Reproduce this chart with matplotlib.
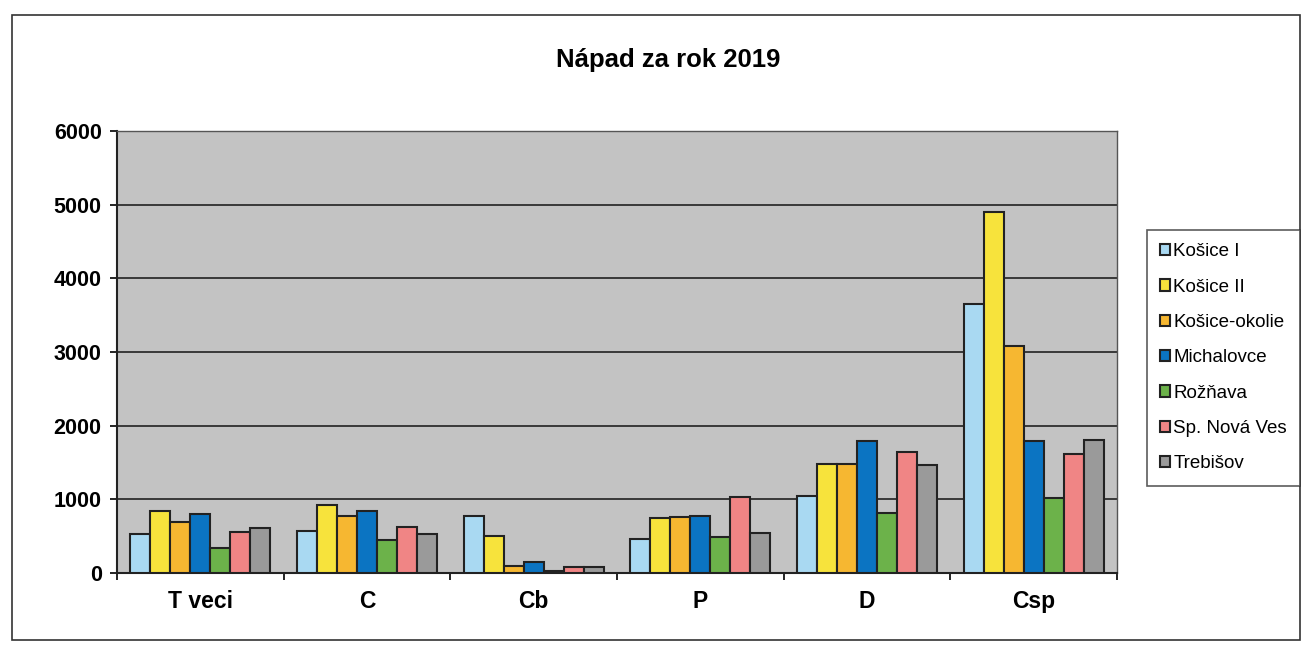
import numpy as np
import matplotlib.pyplot as plt
from matplotlib.patches import Rectangle

plt.rcParams['font.family'] = ['Liberation Sans', 'DejaVu Sans']

categories = ["T veci", "C", "Cb", "P", "D", "Csp"]
courts = ["Košice I", "Košice II", "Košice-okolie", "Michalovce",
          "Rožňava", "Sp. Nová Ves", "Trebišov"]
kosice_1 = [530, 570, 780, 460, 1040, 3650]
kosice_2 = [840, 920, 500, 740, 1480, 4900]
kosice_okolie = [690, 770, 100, 760, 1480, 3080]
michalovce = [800, 840, 150, 770, 1790, 1790]
roznava = [340, 450, 30, 490, 820, 1020]
sp_nova_ves = [550, 630, 80, 1030, 1640, 1610]
trebisov = [610, 530, 80, 540, 1460, 1800]
series = [kosice_1, kosice_2, kosice_okolie, michalovce, roznava, sp_nova_ves, trebisov]
colors = ["#a9d9f2", "#f7e33c", "#f6b731", "#0b74c2", "#6cb24a", "#f08585", "#9a9a9a"]

fig = plt.figure(figsize=(13.09, 6.52), dpi=100)
fig.patch.set_facecolor("white")
# outer chart border
fig.add_artist(Rectangle((12 / 1309, 12 / 652), 1288 / 1309, 625 / 652,
                         transform=fig.transFigure, fill=False, lw=1.2, ec="#333333"))

ax = fig.add_axes([117 / 1309, 1 - 573 / 652, 1000 / 1309, 442 / 652])
ax.set_facecolor("#c3c3c3")

x = np.arange(len(categories))
w = 0.12
for i, (vals, c, name) in enumerate(zip(series, colors, courts)):
    ax.bar(x + (i - 3) * w, vals, w, color=c, edgecolor="#222222", lw=1.5,
           label=name, zorder=3)

ax.set_xlim(-0.5, len(categories) - 0.5)
ax.set_ylim(0, 6000)
ax.set_yticks(range(0, 6001, 1000))
ax.yaxis.grid(True, color="#222222", lw=1.2, zorder=1)
ax.set_axisbelow(True)
ax.set_xticks(x)
ax.set_xticklabels(categories, fontsize=16.5, fontweight="bold")
ax.set_xticks(np.arange(-0.5, len(categories), 1), minor=True)
ax.tick_params(axis="x", which="major", length=0, pad=12)
ax.tick_params(axis="x", which="minor", length=5, width=1.2, direction="out")
ax.tick_params(axis="y", labelsize=15.5, length=5, width=1.2, pad=6)
for lbl in ax.get_yticklabels():
    lbl.set_fontweight("bold")
for s in ["left", "bottom"]:
    ax.spines[s].set_linewidth(1.5)
    ax.spines[s].set_color("#222222")
for s in ["top", "right"]:
    ax.spines[s].set_linewidth(1)
    ax.spines[s].set_color("#555555")

fig.text(668 / 1309, 1 - 60 / 652, "Nápad za rok 2019", ha="center", va="center",
         fontsize=18.5, fontweight="bold")

leg = fig.legend(loc="upper left", bbox_to_anchor=(1147 / 1309, 1 - 230 / 652),
                 frameon=True, fancybox=False, fontsize=13.5, handlelength=0.55,
                 handleheight=0.55, handletextpad=0.15, labelspacing=0.98,
                 borderpad=0.7, borderaxespad=0)
leg.get_frame().set_edgecolor("#333333")
leg.get_frame().set_linewidth(1.2)

fig.savefig("out.png", dpi=100)
